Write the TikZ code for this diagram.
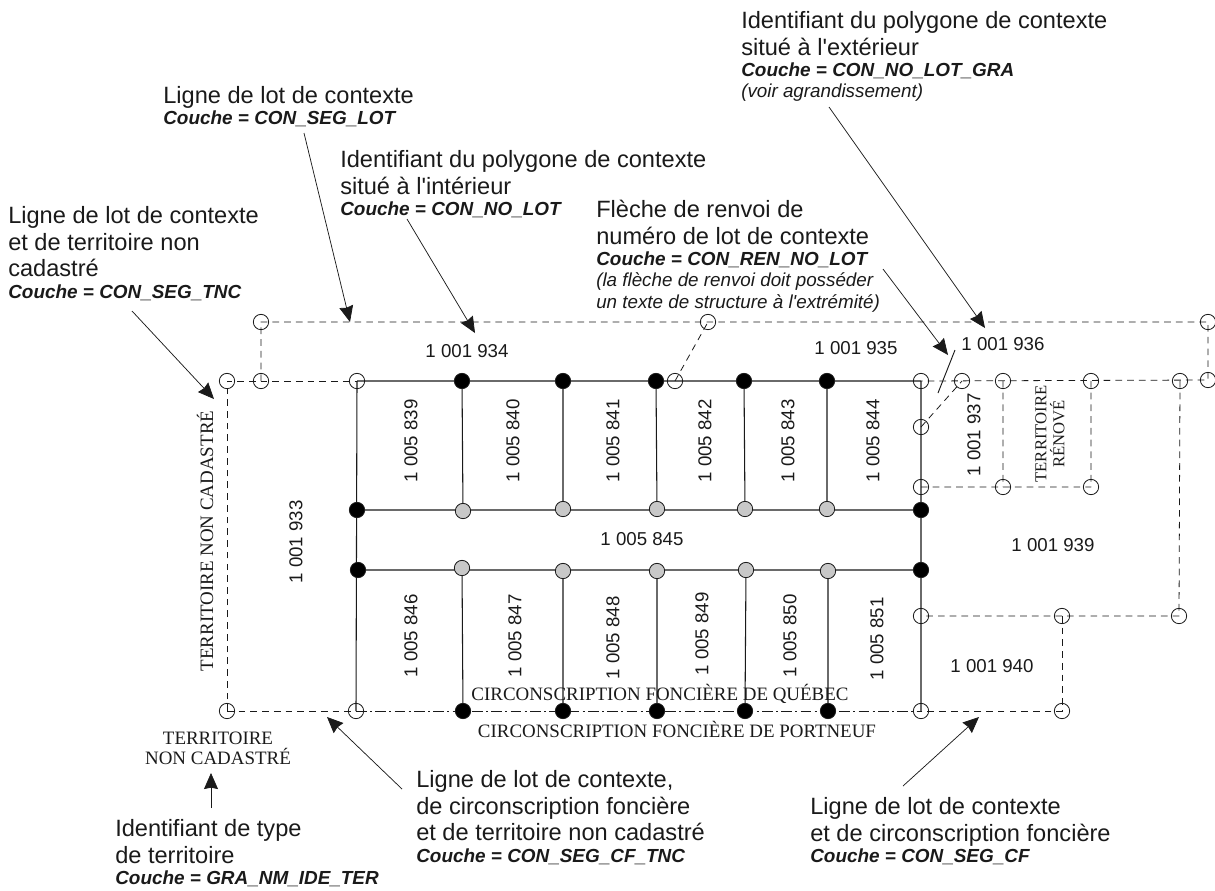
\documentclass[tikz,border=0pt]{standalone}
\usepackage{fontspec}
\setmainfont{Liberation Serif}
\setsansfont{Liberation Sans}
\usetikzlibrary{arrows.meta}
\definecolor{ink}{HTML}{1A1A1A}
\definecolor{grayfill}{HTML}{C8C8C8}
\tikzset{
  x=0.75pt,y=-0.75pt,
  oc/.style={circle,draw=ink,line width=0.6pt,minimum size=11.5pt,inner sep=0pt,outer sep=0pt},
  bc/.style={oc,fill=black},
  gc/.style={oc,fill=grayfill},
  lot/.style={draw=ink,line width=0.8pt},
  ctx/.style={draw=ink,line width=0.6pt,dash pattern=on 5pt off 3.8pt},
  cf/.style={draw=ink,line width=0.6pt,dash pattern=on 8pt off 2.5pt on 1.5pt off 2.5pt},
  lead/.style={draw=ink,line width=0.55pt,-{Stealth[length=12pt,width=10.5pt,inset=1pt]}},
  lab/.style={font=\sffamily\fontsize{17.7}{20}\selectfont,align=left,anchor=north west,inner sep=0pt,text=ink},
  num/.style={font=\sffamily\fontsize{14}{16}\selectfont,inner sep=0pt,text=ink},
  ter/.style={font=\rmfamily\fontsize{14.2}{15}\selectfont,inner sep=0pt,align=center,text=ink},
}
\newcommand{\cou}[1]{{\fontsize{14.2}{16}\selectfont\bfseries\itshape #1}}
\newcommand{\nte}[1]{{\fontsize{14.1}{16}\selectfont\itshape #1}}
\newcommand{\apo}{\textquotesingle}
\begin{document}
\begin{tikzpicture}
\useasboundingbox (0,0) rectangle (1215,890);
% top row nodes
\coordinate (at) at (227,381);
\coordinate (bt) at (261,381);
\coordinate (ct) at (357,381);
\coordinate (dt) at (462,381);
\coordinate (et) at (563,381);
\coordinate (ft) at (656,381);
\coordinate (gt) at (675,381);
\coordinate (ht) at (744,381);
\coordinate (it) at (827,381);
\coordinate (jt) at (921,381);
\coordinate (kt) at (962,381);
\coordinate (lt) at (1003,381);
\coordinate (mt) at (1091,381);
\coordinate (nt) at (1180,381);
\coordinate (ot) at (1208,380);
\coordinate (pa) at (261,322);
\coordinate (pb) at (708,322);
\coordinate (pc) at (1208,322);
\coordinate (c2) at (357,510);
\coordinate (d2) at (463,511);
\coordinate (e2) at (563,509);
\coordinate (f2) at (657,509);
\coordinate (h2) at (745,509);
\coordinate (i2) at (827,509);
\coordinate (j2) at (921,510);
\coordinate (c3) at (358,570);
\coordinate (d3) at (462,568);
\coordinate (e3) at (563,571);
\coordinate (f3) at (657,571);
\coordinate (h3) at (746,570);
\coordinate (i3) at (828,571);
\coordinate (j3) at (921,570);
\coordinate (ab) at (227,711);
\coordinate (cb) at (356,711);
\coordinate (db) at (463,711);
\coordinate (eb) at (563,711);
\coordinate (fb) at (657,711);
\coordinate (hb) at (745,711);
\coordinate (ib) at (828,711);
\coordinate (jb) at (921,711);
\coordinate (kb) at (1062,711);
\coordinate (ja) at (921,427);
\coordinate (jc) at (921,487);
\coordinate (lc) at (1003,487);
\coordinate (mc) at (1091,487);
\coordinate (jd) at (921,616);
\coordinate (kd) at (1062,616);
\coordinate (nd) at (1179,616);
% lots
\path[lot] (ct)--(jt) (ct)--(cb) (jt)--(jb) (c2)--(j2) (c3)--(j3)
 (dt)--(d2) (et)--(e2) (ft)--(f2) (ht)--(h2) (it)--(i2)
 (d3)--(db) (e3)--(eb) (f3)--(fb) (h3)--(hb) (i3)--(ib);
% context
\path[ctx] (ab)--(at)--(ct);
\path[ctx] (bt)--(pa)--(pc)--(ot)--(jt);
\path[ctx] (lt)--(lc) (mt)--(mc) (jc)--(mc) (nt)--(nd)--(jd);
\path[ctx] (kd)--(kb)--(jb);
\path[ctx] (ab)--(cb);
\path[ctx] (gt)--(pb);
\path[ctx] (ja)--(kt);
\path[cf] (cb)--(jb);
% circles
\foreach \p in {at,bt,ct,gt,jt,kt,lt,mt,nt,ot,pa,pb,pc,ab,cb,jb,kb,ja,jc,lc,mc,jd,kd,nd}
  \node[oc] (n\p) at (\p) {};
\foreach \p in {dt,et,ft,ht,it,c2,j2,c3,j3,db,eb,fb,hb,ib}
  \node[bc] (n\p) at (\p) {};
\foreach \p in {d2,e2,f2,h2,i2,d3,e3,f3,h3,i3}
  \node[gc] (n\p) at (\p) {};
% renvoi stroke
\coordinate (ra) at (955,350);
\coordinate (rb) at (938,393);
\path[draw=ink,line width=0.7pt] (ra)--(rb);
% numbers
\node[num] (t934) at (467,351) {1 001 934};
\node[num] (t935) at (856,348) {1 001 935};
\node[num] (t936) at (1003,344) {1 001 936};
\node[num] (t845) at (642,539) {1 005 845};
\node[num] (t939) at (1053,545) {1 001 939};
\node[num] (t940) at (992,666) {1 001 940};
\node[num,rotate=90] (t933) at (296,542) {1 001 933};
\node[num,rotate=90] (t937) at (974,435) {1 001 937};
\foreach \x/\n/\y in {411/839/441,513/840/441,613/841/441,705/842/441,788/843/441,873/844/441,411/846/636,515/847/636,613/848/638,702/849/634,790/850/636,877/851/639}
  \node[num,rotate=90] (t\n) at (\x,\y) {1 005 \n};
% territory
\node[ter,rotate=90] (tnc) at (205,541) {TERRITOIRE NON CADASTRÉ};
\node[ter,rotate=90,font=\rmfamily\fontsize{12.5}{13.5}\selectfont] (tre) at (1050,434) {TERRITOIRE\\RÉNOVÉ};
\node[ter] (cq) at (660,694) {CIRCONSCRIPTION FONCIÈRE DE QUÉBEC};
\node[ter] (cp) at (677,729) {CIRCONSCRIPTION FONCIÈRE DE PORTNEUF};
\node[ter] (tn2) at (218,748) {TERRITOIRE\\NON CADASTRÉ};
% labels
\node[lab] (l1) at (741,11) {Identifiant du polygone de contexte\\situé à l\apo extérieur\\[-4pt]\cou{Couche = CON\_NO\_LOT\_GRA}\\[-4pt]\nte{(voir agrandissement)}};
\node[lab] (l2) at (163,86) {Ligne de lot de contexte\\[-4pt]\cou{Couche = CON\_SEG\_LOT}};
\node[lab] (l3) at (340,150) {Identifiant du polygone de contexte\\situé à l\apo intérieur\\[-4pt]\cou{Couche = CON\_NO\_LOT}};
\node[lab] (l4) at (596,200) {Flèche de renvoi de\\numéro de lot de contexte\\[-4pt]\cou{Couche = CON\_REN\_NO\_LOT}\\[-4pt]\nte{(la flèche de renvoi doit posséder}\\[-4pt]\nte{un texte de structure à l\apo extrémité)}};
\node[lab] (l5) at (8,206) {Ligne de lot de contexte\\et de territoire non\\cadastré\\[-4pt]\cou{Couche = CON\_SEG\_TNC}};
\node[lab] (l6) at (416,770) {Ligne de lot de contexte,\\de circonscription foncière\\et de territoire non cadastré\\[-4pt]\cou{Couche = CON\_SEG\_CF\_TNC}};
\node[lab] (l7) at (810,797) {Ligne de lot de contexte\\et de circonscription foncière\\[-4pt]\cou{Couche = CON\_SEG\_CF}};
\node[lab] (l8) at (115,819) {Identifiant de type\\de territoire\\[-4pt]\cou{Couche = GRA\_NM\_IDE\_TER}};
% leaders
\coordinate (a1s) at (829,107); \coordinate (a1e) at (985,328);
\coordinate (a2s) at (304,133); \coordinate (a2e) at (350,322);
\coordinate (a3s) at (407,219); \coordinate (a3e) at (475,333);
\coordinate (a4s) at (883,269); \coordinate (a4e) at (948,355);
\coordinate (a5s) at (132,311); \coordinate (a5e) at (214,399);
\coordinate (a6s) at (402,789); \coordinate (a6e) at (327,717);
\coordinate (a7s) at (903,786); \coordinate (a7e) at (979,717);
\coordinate (a8s) at (211,808); \coordinate (a8e) at (211,773);
\foreach \i in {1,...,8} \path[lead] (a\i s)--(a\i e);
\end{tikzpicture}
\end{document}
